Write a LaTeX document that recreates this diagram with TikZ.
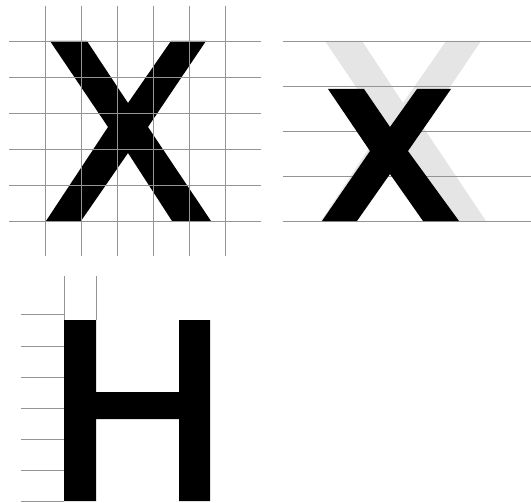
\documentclass[tikz,border=0pt]{standalone}
\begin{document}
\begin{tikzpicture}[x=1pt,y=-1pt,
  gridline/.style={draw=black!42,line width=0.9pt},
  glyph/.style={fill=black},
  ghost/.style={fill=black!10}]
\useasboundingbox (0,0) rectangle (531,503);
% ---- Panel 1: capital X on a grid
\fill[glyph] (50,41) -- (87,41) -- (128,103) -- (171,41) -- (206,41) -- (148,127)
  -- (211,221) -- (172,221) -- (128,153) -- (81,221) -- (46,221) -- (108,127) -- cycle;
\foreach \x in {45,81,117,153,189,225} \draw[gridline] (\x,6) -- (\x,256);
\foreach \y in {41,77,113,149,185,221} \draw[gridline] (9,\y) -- (261,\y);
% ---- Panel 2: lowercase x over ghost X
\begin{scope}[xshift=275pt]
\fill[ghost] (50,41) -- (87,41) -- (128,103) -- (171,41) -- (206,41) -- (148,127)
  -- (211,221) -- (172,221) -- (128,153) -- (81,221) -- (46,221) -- (108,127) -- cycle;
\end{scope}
\foreach \y in {41,86,131,176,221} \draw[gridline] (283,\y) -- (531,\y);
\fill[glyph] (328,89) -- (364,89) -- (390,127) -- (417,89) -- (451,89) -- (408,151)
  -- (459,221) -- (423,221) -- (390,174) -- (357,221) -- (322,221) -- (370,151) -- cycle;
% ---- Panel 3: H with ruler
\foreach \y in {314,346,377,408,439,470,501} \draw[gridline] (21,\y) -- (64,\y);
\foreach \x in {64,96} \draw[gridline] (\x,276) -- (\x,320);
\fill[glyph] (64,320) -- (96,320) -- (96,392) -- (179,392) -- (179,320) -- (210,320)
  -- (210,501) -- (179,501) -- (179,419) -- (96,419) -- (96,501) -- (64,501) -- cycle;
\end{tikzpicture}
\end{document}
